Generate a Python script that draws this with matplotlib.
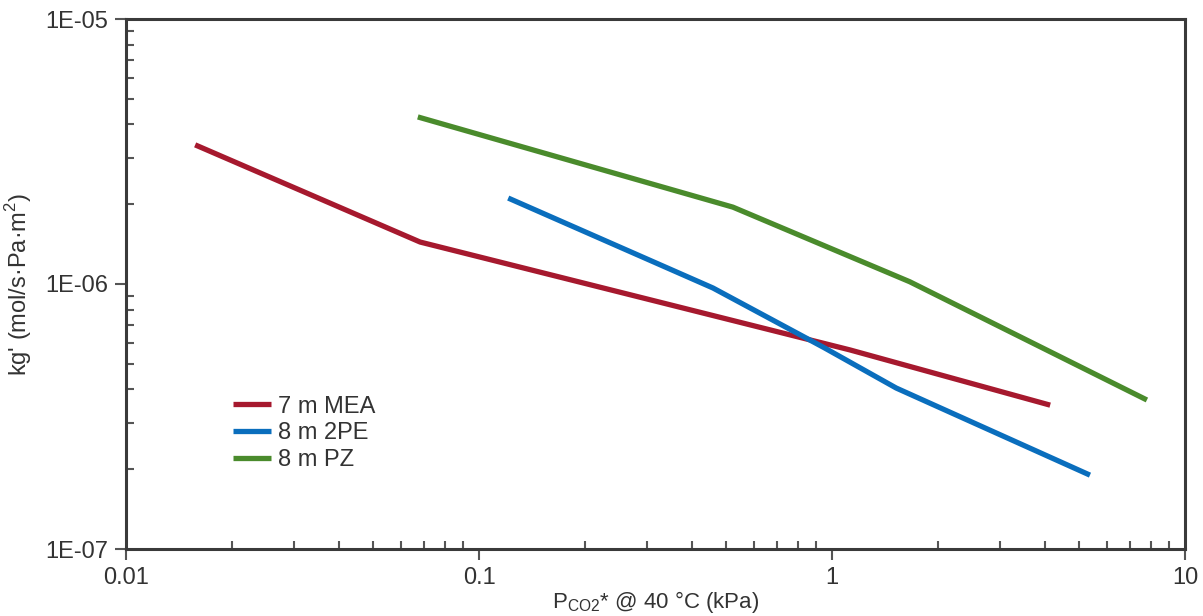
import matplotlib
matplotlib.use("Agg")
import matplotlib.pyplot as plt
from matplotlib.ticker import LogLocator, FixedLocator, NullFormatter

plt.rcParams['font.family'] = ['Liberation Sans', 'DejaVu Sans']

# Data
mea_x = [0.0157, 0.0681, 1.124, 4.15]
mea_y = [3.35e-6, 1.44e-6, 5.64e-7, 3.49e-7]

pe_x = [0.121, 0.460, 0.95, 1.52, 5.38]
pe_y = [2.11e-6, 9.66e-7, 5.75e-7, 4.05e-7, 1.90e-7]

pz_x = [0.0671, 0.524, 1.66, 7.80]
pz_y = [4.27e-6, 1.95e-6, 1.02e-6, 3.65e-7]

series_labels = ["7 m MEA", "8 m 2PE", "8 m PZ"]
x_ticks = [0.01, 0.1, 1, 10]
x_ticklabels = ["0.01", "0.1", "1", "10"]
y_ticks = [1e-7, 1e-6, 1e-5]
y_ticklabels = ["1E-07", "1E-06", "1E-05"]

colors = ["#A6192E", "#0A6EBD", "#4A8B2C"]
spine_c = "#3a3a3a"
text_c = "#333333"

fig = plt.figure(figsize=(12.03, 6.16), dpi=100)
ax = fig.add_axes([126/1203, 1-549/616, (1185-126)/1203, (549-19)/616])

for xs, ys, c, lab in zip([mea_x, pe_x, pz_x], [mea_y, pe_y, pz_y], colors, series_labels):
    ax.plot(xs, ys, color=c, lw=3.8, label=lab, solid_capstyle='butt', solid_joinstyle='round')

ax.set_xscale('log')
ax.set_yscale('log')
ax.set_xlim(0.01, 10)
ax.set_ylim(1e-7, 1e-5)

ax.xaxis.set_major_locator(FixedLocator(x_ticks))
ax.set_xticklabels(x_ticklabels)
ax.yaxis.set_major_locator(FixedLocator(y_ticks))
ax.set_yticklabels(y_ticklabels)
ax.xaxis.set_minor_locator(LogLocator(base=10, subs=range(2, 10)))
ax.yaxis.set_minor_locator(LogLocator(base=10, subs=range(2, 10)))
ax.xaxis.set_minor_formatter(NullFormatter())
ax.yaxis.set_minor_formatter(NullFormatter())

ax.tick_params(which='major', direction='out', length=8, width=1.5, color='#555555',
               labelsize=17, labelcolor=text_c)
ax.tick_params(axis='y', which='major', pad=5)
ax.tick_params(axis='x', which='major', pad=5)
ax.tick_params(which='minor', direction='in', length=6, width=1.5, color='#555555')
ax.tick_params(top=False, right=False, which='both')

for s in ax.spines.values():
    s.set_color(spine_c)
    s.set_linewidth(2.2)

ax.set_xlabel("P$_{\\mathregular{CO2}}$* @ 40 °C (kPa)", fontsize=16, color=text_c, labelpad=0)
ax.set_ylabel("kg' (mol/s·Pa·m$^{\\mathregular{2}}$)", fontsize=17, color=text_c, labelpad=8)

leg = ax.legend(loc='upper left', bbox_to_anchor=(0.092, 0.307), frameon=False,
                fontsize=17, handlelength=1.6, handletextpad=0.3, labelspacing=0.2,
                borderaxespad=0)
for t in leg.get_texts():
    t.set_color(text_c)

fig.savefig("out.png", dpi=100)
